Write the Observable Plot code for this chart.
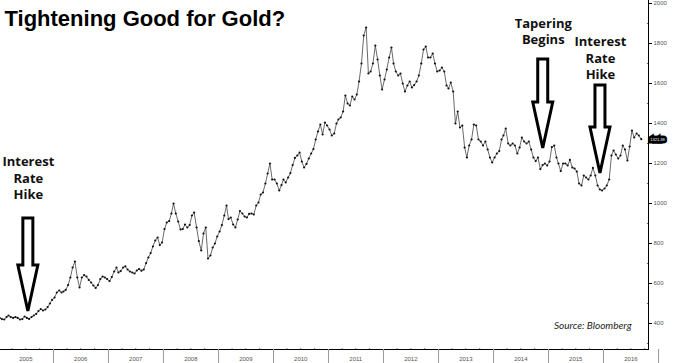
<!DOCTYPE html>
<html>
<head>
<meta charset="utf-8">
<script src="https://cdn.jsdelivr.net/npm/d3@7"></script>
<script src="https://cdn.jsdelivr.net/npm/@observablehq/plot@0.6"></script>
<style>
  html, body { margin: 0; padding: 0; background: #fff; }
  #chart svg { display: block; }
  g[aria-label^="y-axis"] text { fill: #555; }
  g[aria-label^="x-axis"] { color: #999; }
</style>
</head>
<body>
<div id="chart"></div>
<script>
// ---- Data (semi-monthly gold spot, USD/oz) ----
const years = [2005, 2006, 2007, 2008, 2009, 2010, 2011, 2012, 2013, 2014, 2015, 2016];
const gold2005 = [428,422, 420,432, 440,432, 428,432, 428,420, 422,435, 428,423, 432,440, 448,462, 472,465, 470,482, 500,518];
const gold2006 = [530,555, 565,555, 560,568, 592,630, 680,710, 630,580, 630,642, 635,618, 605,590, 578,592, 622,635, 630,622];
const gold2007 = [612,632, 660,680, 655,662, 680,686, 670,660, 655,650, 665,672, 664,670, 702,730, 752,785, 815,830, 792,805];
const gold2008 = [872,905, 912,950, 1000,950, 910,870, 872,895, 880,892, 940,955, 880,812, 765,850, 880,725, 740,780, 800,835];
const gold2009 = [860,892, 940,990, 922,930, 895,880, 920,962, 950,935, 930,948, 950,945, 990,1005, 1045,1055, 1100,1150, 1200,1120];
const gold2010 = [1120,1100, 1065,1092, 1120,1105, 1130,1152, 1192,1228, 1240,1255, 1210,1180, 1198,1225, 1250,1272, 1320,1360, 1395,1345, 1405,1390];
const gold2011 = [1370,1340, 1350,1400, 1420,1430, 1460,1540, 1500,1490, 1535,1520, 1545,1610, 1700,1840, 1880,1650, 1660,1700, 1790,1720, 1640,1570];
const gold2012 = [1620,1670, 1730,1780, 1700,1660, 1640,1650, 1600,1560, 1590,1610, 1580,1592, 1610,1640, 1700,1770, 1785,1730, 1730,1750, 1700,1660];
const gold2013 = [1665,1680, 1660,1590, 1575,1605, 1560,1400, 1460,1380, 1390,1280, 1230,1290, 1320,1395, 1390,1320, 1310,1290, 1310,1270, 1230,1205];
const gold2014 = [1230,1250, 1262,1320, 1340,1375, 1300,1290, 1300,1290, 1250,1280, 1330,1310, 1300,1310, 1270,1230, 1212,1230, 1172,1192, 1200,1190];
const gold2015 = [1210,1282, 1290,1230, 1200,1162, 1200,1200, 1190,1218, 1180,1175, 1160,1100, 1090,1140, 1130,1120, 1140,1178, 1140,1090, 1070,1065];
const gold2016 = [1075,1090, 1120,1240, 1265,1245, 1225,1240, 1290,1270, 1215,1285, 1365,1330, 1350,1340, 1321.38];
const goldByYear = [gold2005, gold2006, gold2007, gold2008, gold2009, gold2010, gold2011, gold2012, gold2013, gold2014, gold2015, gold2016];

const yTicks = [400, 600, 800, 1000, 1200, 1400, 1600, 1800, 2000];
const yMinorTicks = [300, 500, 700, 900, 1100, 1300, 1500, 1700, 1900];
const yearLabels = ["2005","2006","2007","2008","2009","2010","2011","2012","2013","2014","2015","2016"];

const annoDates = ["2005-07-18", "2014-11-27", "2015-12-12"];
const annoTexts = ["Interest\nRate\nHike", "Tapering\nBegins", "Interest\nRate\nHike"];
const annoLabelLevel = [1130, 1865, 1730];
const arrowTop = [925, 1720, 1590];
const arrowTip = [460, 1275, 1150];

const titleText = "Tightening Good for Gold?";
const sourceText = "Source: Bloomberg";

// ---- Build tables ----
const series = [];
years.forEach((yr, k) => {
  goldByYear[k].forEach((v, i) => {
    series.push({date: new Date(Date.UTC(yr, Math.floor(i / 2), i % 2 ? 23 : 8)), value: v});
  });
});
const last = series[series.length - 1];

const yearStarts = yearLabels.map(s => new Date(Date.UTC(+s, 0, 1)));
yearStarts.push(new Date(Date.UTC(2017, 0, 1)));
const yearMids = yearLabels.map(s => ({date: new Date(Date.UTC(+s, 6, 1)), label: s}));
const quarterTicks = [];
yearLabels.forEach(s => [3, 6, 9].forEach(m => quarterTicks.push(new Date(Date.UTC(+s, m, 1)))));

const annos = annoDates.map((d, i) => ({
  date: new Date(d + "T00:00:00Z"), text: annoTexts[i], level: annoLabelLevel[i], top: arrowTop[i], tip: arrowTip[i]
}));

const xDomain = [new Date(Date.UTC(2005, 0, 14)), new Date(Date.UTC(2016, 9, 26))];
const yDomain = [270, 2015];

// Hollow arrows drawn through the plot's scales
function arrowsMark(index, scales) {
  const sx = scales.x, sy = scales.y;
  const g = d3.create("svg:g").attr("aria-label", "arrows");
  const shaft = 5, head = 10, headLen = 46;
  for (const a of annos) {
    const x = sx(a.date), yT = sy(a.top), yP = sy(a.tip), yH = yP - headLen;
    const pts = [[x - shaft, yT], [x + shaft, yT], [x + shaft, yH], [x + head, yH], [x, yP], [x - head, yH], [x - shaft, yH]];
    g.append("path")
      .attr("d", "M" + pts.map(p => p.join(",")).join("L") + "Z")
      .attr("fill", "#fff")
      .attr("stroke", "#000")
      .attr("stroke-width", 3)
      .attr("stroke-linejoin", "miter");
  }
  return g.node();
}

const chart = Plot.plot({
  width: 673,
  height: 363,
  marginLeft: 0,
  marginRight: 25,
  marginTop: 0,
  marginBottom: 14,
  style: {background: "#fff", fontFamily: "'Liberation Sans', Arial, sans-serif", fontSize: "6px", overflow: "visible"},
  x: {type: "utc", domain: xDomain, ticks: yearStarts, tickSize: 14, tickFormat: () => "", line: true, label: null},
  y: {domain: yDomain, axis: "right", ticks: yTicks, tickSize: 3, tickPadding: 2, line: true, label: null, tickFormat: d => String(d)},
  marks: [
    Plot.dot(quarterTicks, {x: d => d, frameAnchor: "bottom", dy: -1, r: 0.6, fill: "#777", stroke: null}),
    Plot.dot(yMinorTicks, {y: d => d, frameAnchor: "right", dx: -1, r: 0.6, fill: "#555", stroke: null}),
    Plot.text(yearMids, {x: "date", text: "label", frameAnchor: "bottom", dy: 11, fontSize: 6, fill: "#555"}),
    Plot.line(series, {x: "date", y: "value", stroke: "#444", strokeWidth: 0.8}),
    Plot.dot(series, {x: "date", y: "value", r: 1.1, fill: "#111", stroke: null}),
    Plot.text([last], {x: () => xDomain[1], y: "value", text: d => d.value.toFixed(2), dx: 9, fontSize: 4, fill: "#fff", stroke: "#000", strokeWidth: 5, strokeLinejoin: "miter"}),
    arrowsMark,
    Plot.text(annos, {x: "date", y: "level", text: "text", fontFamily: "'Open Sans', 'Liberation Sans', sans-serif", fontWeight: "bold", fontSize: 13, lineHeight: 1.27, fill: "#111"}),
    Plot.text([titleText], {text: d => d, frameAnchor: "top-left", dx: 4, dy: 10, lineAnchor: "top", fontSize: 22, fontWeight: "bold", fill: "#000"}),
    Plot.text([sourceText], {text: d => d, frameAnchor: "bottom-right", dx: -17, dy: -21, textAnchor: "end", fontFamily: "Lato, 'Liberation Sans', sans-serif", fontStyle: "italic", fontSize: 10, fill: "#222"})
  ]
});
document.getElementById("chart").appendChild(chart);
</script>
</body>
</html>
